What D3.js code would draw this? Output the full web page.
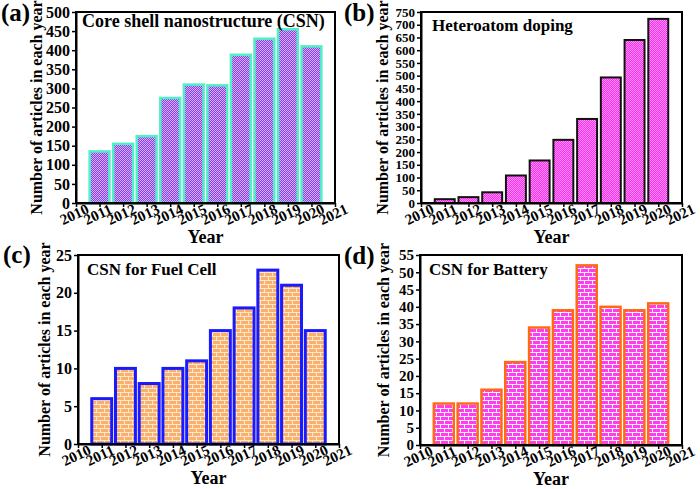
<!DOCTYPE html>
<html><head><meta charset="utf-8">
<script src="https://cdn.jsdelivr.net/npm/d3@7"></script>
<style>body{margin:0;background:#fff} text{font-family:"Liberation Serif","Times New Roman","DejaVu Serif",serif !important;}</style>
</head><body><svg id="c" width="700" height="489"></svg>
<script>
const years = [2011, 2012, 2013, 2014, 2015, 2016, 2017, 2018, 2019, 2020];
const csnValues = [135, 155, 175, 275, 310, 308, 388, 430, 455, 410];
const dopingValues = [15, 23, 42, 108, 167, 248, 330, 493, 640, 723];
const fuelCellValues = [6, 10, 8, 10, 11, 15, 18, 23, 21, 15];
const batteryValues = [12, 12, 16, 24, 34, 39, 52, 40, 39, 41];
const xTickYears = [2010, 2011, 2012, 2013, 2014, 2015, 2016, 2017, 2018, 2019, 2020, 2021];
const panelTitles = ["Core shell nanostructure (CSN)", "Heteroatom doping", "CSN for Fuel Cell", "CSN for Battery"];
const panelLetters = ["(a)", "(b)", "(c)", "(d)"];
const yMaxes = [500, 750, 25, 55];
const ySteps = [50, 50, 5, 5];
const yLabel = "Number of articles in each year";
const xLabel = "Year";

const svg = d3.select("#c");
const defs = svg.append("defs");

function checker(id, c1, c2) {
  const p = defs.append("pattern").attr("id", id).attr("width", 2).attr("height", 2).attr("patternUnits", "userSpaceOnUse");
  p.append("rect").attr("width", 2).attr("height", 2).attr("fill", c1);
  p.append("rect").attr("width", 1).attr("height", 1).attr("fill", c2);
  p.append("rect").attr("x", 1).attr("y", 1).attr("width", 1).attr("height", 1).attr("fill", c2);
}
checker("patA", "#8c38ee", "#d2b4fb");
checker("patB", "#ff2cf4", "#ff90fa");
function brick(id, bg, line, op) {
  const p = defs.append("pattern").attr("id", id).attr("width", 8).attr("height", 8).attr("patternUnits", "userSpaceOnUse");
  p.append("rect").attr("width", 8).attr("height", 8).attr("fill", bg);
  const g = p.append("g").attr("fill", line).attr("opacity", op);
  g.append("rect").attr("x", 0).attr("y", 0).attr("width", 8).attr("height", 1);
  g.append("rect").attr("x", 0).attr("y", 4).attr("width", 8).attr("height", 1);
  g.append("rect").attr("x", 0).attr("y", 0).attr("width", 1).attr("height", 4);
  g.append("rect").attr("x", 4).attr("y", 4).attr("width", 1).attr("height", 4);
}
brick("patC", "#fbb06a", "#ffffff", 0.7);
brick("patD", "#ff3cf2", "#ffffff", 0.95);

const panels = [
  {vals: csnValues, box: [76, 335, 12, 203], fill: "url(#patA)", stroke: "#4ff0c4", sw: 2.5,
   letter: [1, 21], title: [82, 27], ylx: 38, tfs: 18, yfs: 16},
  {vals: dopingValues, box: [421, 682, 12, 203], fill: "url(#patB)", stroke: "#111", sw: 2,
   letter: [344, 21], title: [432, 31], ylx: 384, tfs: 17, yfs: 13},
  {vals: fuelCellValues, box: [78, 339, 255, 444], fill: "url(#patC)", stroke: "#1a1aff", sw: 3,
   letter: [3, 263], title: [87, 275], ylx: 46, tfs: 17, yfs: 16},
  {vals: batteryValues, box: [420, 682, 255, 445], fill: "url(#patD)", stroke: "#ff6a10", sw: 2.5,
   letter: [344, 264], title: [429, 275], ylx: 385, tfs: 17, yfs: 15}
];

panels.forEach((P, i) => {
  const [x0, x1, y0, y1] = P.box;
  const x = d3.scaleLinear().domain([2010, 2021]).range([x0, x1]);
  const y = d3.scaleLinear().domain([0, yMaxes[i]]).range([y1, y0]);
  const g = svg.append("g");
  const bw = (x(2011) - x(2010)) * 0.84;

  g.selectAll("rect.bar").data(years.map((yr, k) => ({yr, v: P.vals[k]}))).join("rect")
    .attr("class", "bar")
    .attr("x", d => x(d.yr) - bw / 2)
    .attr("width", bw)
    .attr("y", d => y(d.v))
    .attr("height", d => y(0) - y(d.v))
    .attr("fill", P.fill)
    .attr("stroke", P.stroke)
    .attr("stroke-width", P.sw);

  g.append("rect").attr("x", x0).attr("y", y0).attr("width", x1 - x0).attr("height", y1 - y0)
    .attr("fill", "none").attr("stroke", "#000").attr("stroke-width", 2);

  const yTicks = d3.range(0, yMaxes[i] + ySteps[i] / 2, ySteps[i]);
  const ya = g.append("g").attr("transform", `translate(${x0},0)`)
    .call(d3.axisLeft(y).tickValues(yTicks).tickSize(4).tickSizeOuter(0).tickPadding(2).tickFormat(d3.format("d")));
  ya.select(".domain").attr("stroke-width", 2);
  ya.selectAll(".tick line").attr("stroke-width", 1.5);
  ya.selectAll("text").attr("font-weight", "bold")
    .attr("font-size", P.yfs).attr("fill", "#000");

  const xa = g.append("g").attr("transform", `translate(0,${y1})`)
    .call(d3.axisBottom(x).tickValues(xTickYears).tickSize(4).tickSizeOuter(0).tickFormat(d3.format("d")));
  xa.select(".domain").attr("stroke-width", 2);
  xa.selectAll(".tick line").attr("stroke-width", 1.5);
  xa.selectAll("text").attr("font-weight", "bold").attr("font-size", 15)
    .attr("fill", "#000").attr("text-anchor", "middle")
    .attr("y", 0).attr("dy", 0)
    .attr("transform", "translate(0,16) rotate(-25)");

  g.append("text").attr("transform", `translate(${P.ylx},${(y0 + y1) / 2}) rotate(-90)`)
    .attr("text-anchor", "middle").attr("dominant-baseline", "middle")
    .attr("font-weight", "bold").attr("font-size", 16).text(yLabel);

  g.append("text").attr("x", (x0 + x1) / 2).attr("y", y1 + 40).attr("text-anchor", "middle")
    .attr("font-weight", "bold").attr("font-size", 18).text(xLabel);

  g.append("text").attr("x", P.title[0]).attr("y", P.title[1])
    .attr("font-weight", "bold").attr("font-size", P.tfs).text(panelTitles[i]);

  g.append("text").attr("x", P.letter[0]).attr("y", P.letter[1])
    .attr("font-weight", "bold").attr("font-size", 25).text(panelLetters[i]);
});
</script>
</body></html>
